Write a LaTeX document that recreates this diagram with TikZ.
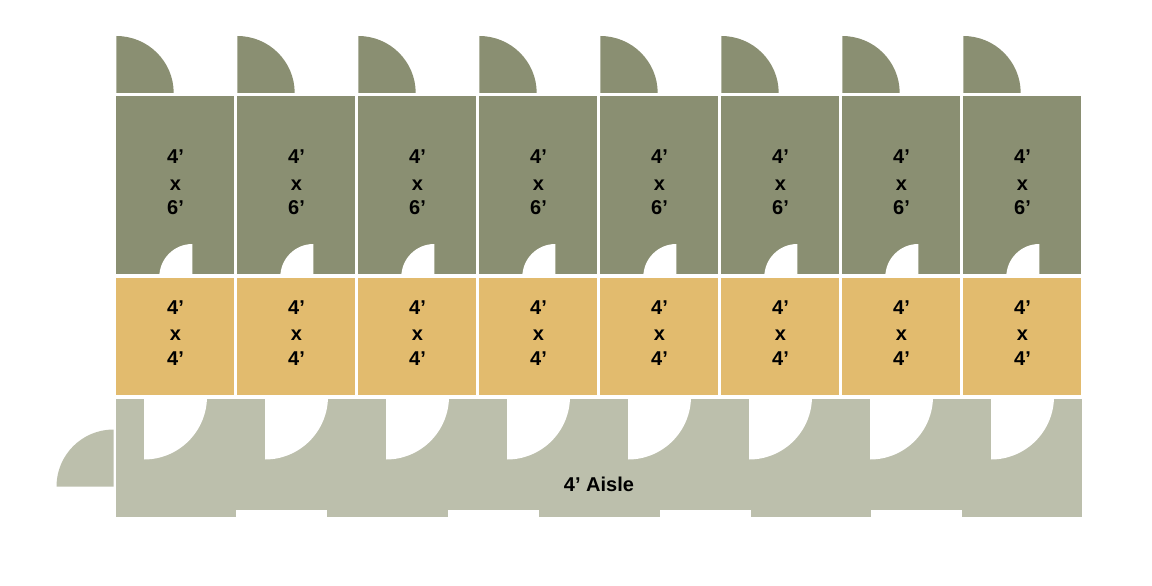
\documentclass[tikz,border=0pt]{standalone}
\usepackage{fontspec}
\setmainfont{Liberation Sans}
\definecolor{stall}{HTML}{8A8F72}
\definecolor{anteroom}{HTML}{E2BB6E}
\definecolor{aisle}{HTML}{BCBFAC}
\tikzset{
  lbl/.style={inner sep=0pt,font=\fontsize{20}{20}\selectfont\bfseries,text=black,anchor=center},
}
\begin{document}
\begin{tikzpicture}[x=1pt,y=-1pt]
\useasboundingbox (0,0) rectangle (1152,586);
% aisle
\fill[aisle] (116.3,398.7) rectangle (1081.7,516.7);
\foreach \a in {236,448,659.5,871}{
  \fill[white] (\a,510) rectangle ++(91,7);
}
\fill[aisle] (113.5,486.5) -- (56.5,486.5) arc[start angle=180,end angle=90,x radius=57,y radius=-57] -- cycle;
\foreach \i in {0,...,7}{
  \pgfmathsetmacro{\xa}{116.3+121*\i}
  \pgfmathsetmacro{\xc}{\xa+59.2}
  % door above the stall
  \fill[stall] (\xa,93) -- (\xa,36) arc[start angle=90,end angle=0,x radius=57.4,y radius=-57] -- cycle;
  % stall and its notch
  \fill[stall] (\xa,96) rectangle ++(117.8,178.3);
  \begin{scope}
    \clip (\xa,240) rectangle ++(117.8,34.3);
    \fill[white] (\xa+76,277) -- (\xa+43,277) arc[start angle=180,end angle=90,x radius=33,y radius=-33] -- cycle;
  \end{scope}
  % anteroom
  \fill[anteroom] (\xa,277.7) rectangle ++(117.8,117.6);
  % door cut into the aisle
  \begin{scope}
    \clip (\xa,398.7) rectangle ++(121,70);
    \fill[white] (\xa+27.7,396.5) -- (\xa+90.7,396.5) arc[start angle=0,end angle=90,x radius=63,y radius=63] -- cycle;
  \end{scope}
  \node[lbl] (sa\i) at (\xc,156.5) {4’};
  \node[lbl] (sb\i) at (\xc,185) {x};
  \node[lbl] (sc\i) at (\xc,207.5) {6’};
  \node[lbl] (ra\i) at (\xc,307.5) {4’};
  \node[lbl] (rb\i) at (\xc,335) {x};
  \node[lbl] (rc\i) at (\xc,358.5) {4’};
}
\node[lbl] (aisletext) at (599,484.5) {4’ Aisle};
\end{tikzpicture}
\end{document}
